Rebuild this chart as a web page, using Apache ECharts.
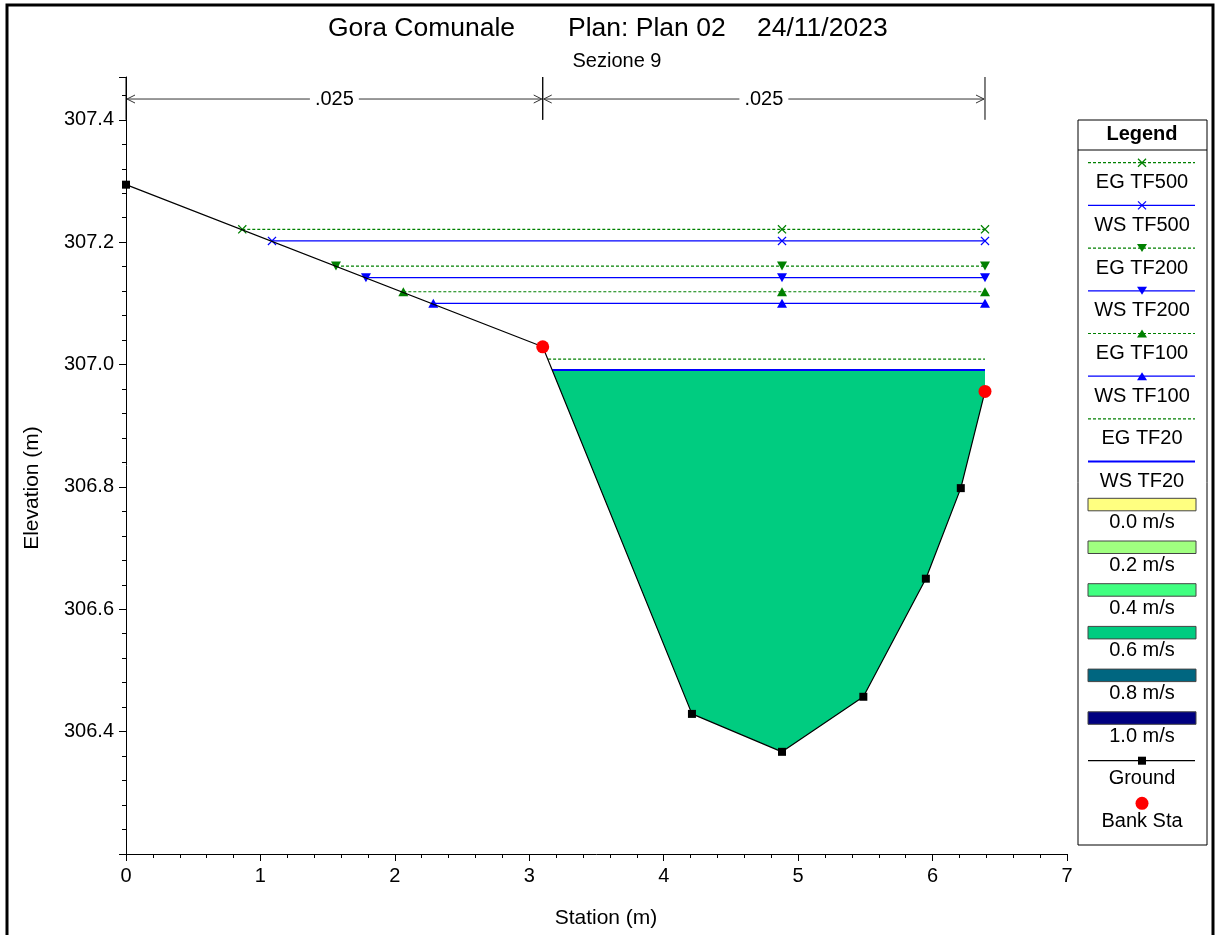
<!DOCTYPE html>
<html><head><meta charset="utf-8">
<script src="https://cdn.jsdelivr.net/npm/echarts@6/dist/echarts.min.js"></script>
<style>html,body{margin:0;padding:0;background:#fff}#c{width:1215px;height:935px}</style>
</head><body><div id="c"></div>
<script>
// ---- data ----
const groundStation = [0, 3.10, 4.21, 4.88, 5.485, 5.95, 6.21, 6.39];
const groundElev    = [307.294, 307.029, 306.429, 306.367, 306.457, 306.650, 306.798, 306.956];
const bankStation   = [3.10, 6.39];
const bankElev      = [307.029, 306.956];
const profileNames  = ['EG TF500','WS TF500','EG TF200','WS TF200','EG TF100','WS TF100','EG TF20','WS TF20'];
const profileElev   = [307.221, 307.202, 307.161, 307.142, 307.119, 307.100, 307.009, 306.991];
const profileStart  = [0.865, 1.086, 1.562, 1.785, 2.063, 2.286, 3.14, 3.17];
const profileMidSta = [4.88, 4.88, 4.88, 4.88, 4.88, 4.88, 4.88, 4.88];
const profileEndSta = [6.39, 6.39, 6.39, 6.39, 6.39, 6.39, 6.39, 6.39];
const manningBreaks = [0, 3.10, 6.39];
const manningN      = ['.025', '.025'];
const velocityLabels = ['0.0 m/s','0.2 m/s','0.4 m/s','0.6 m/s','0.8 m/s','1.0 m/s'];
const xTickValues = [0,1,2,3,4,5,6,7];
const yTickValues = [306.4,306.6,306.8,307.0,307.2,307.4];
const titleParts = ['Gora Comunale', 'Plan: Plan 02', '24/11/2023'];
const subTitle = 'Sezione 9';

// ---- styles ----
const velocityColors = ['#ffff80','#a0ff80','#40ff80','#00cc80','#006680','#000080'];
const flowColor = '#00cc80';
const EGC = '#008000', WSC = '#0000ff';
const profileColor = [EGC,WSC,EGC,WSC,EGC,WSC,EGC,WSC];
const profileDashed = [true,false,true,false,true,false,true,false];
const profileMark = ['cross','cross','down','down','up','up','none','none'];
const FONT = 'Liberation Sans, Arial, sans-serif';
const crossPath = 'path://M0,1L1,0L5,4L9,0L10,1L6,5L10,9L9,10L5,6L1,10L0,9L4,5Z';
function symOf(m){ return m==='cross'?crossPath : m==='none'?'none':'triangle'; }

const chart = echarts.init(document.getElementById('c'), null, {renderer:'canvas'});

// flow area polygon (WS TF20 clipped to ground)
const ws20 = profileElev[7];
const flowPoly = [[profileStart[7], ws20]];
groundStation.forEach((s,i)=>{ if (s > profileStart[7]) flowPoly.push([s, groundElev[i]]); });
flowPoly.push([profileEndSta[7], ws20]);

const series = [];
series.push({
  type:'custom', name:'flow', z:1, silent:true,
  data:[[0,0]],
  renderItem:(p, api)=>{
    return {type:'polygon', shape:{points: flowPoly.map(pt=>api.coord(pt))},
      style:{fill: flowColor, stroke: 'none'}};
  }
});
profileNames.forEach((n,i)=>{
  const m = profileMark[i];
  series.push({
    type:'line', name:n, z:2,
    data:[[profileStart[i], profileElev[i]],[profileMidSta[i], profileElev[i]],[profileEndSta[i], profileElev[i]]],
    symbol: symOf(m), symbolSize: m==='cross'?[9,9]:[10,9], symbolRotate: m==='down'?180:0,
    showSymbol: m!=='none',
    lineStyle:{color: profileColor[i], width: i===7?2:1.2, type: profileDashed[i]?[3,2]:'solid'},
    itemStyle:{color: profileColor[i]},
    animation:false
  });
});
series.push({
  type:'line', name:'Ground', z:3,
  data: groundStation.map((s,i)=>[s, groundElev[i]]),
  symbol:'rect', symbolSize:8, lineStyle:{color:'#000', width:1.2}, itemStyle:{color:'#000'}
});
series.push({
  type:'scatter', name:'Bank Sta', z:4,
  data: bankStation.map((s,i)=>[s, bankElev[i]]),
  symbol:'circle', symbolSize:13, itemStyle:{color:'#ff0000', opacity:1, borderWidth:0}
});
// Manning's n annotation
series.push({
  type:'custom', name:'manning', z:5, silent:true, clip:false,
  data: manningN.map((n,i)=>[manningBreaks[i], manningBreaks[i+1]]),
  renderItem:(p, api)=>{
    const x0 = api.coord([api.value(0), 307.434])[0];
    const x1 = api.coord([api.value(1), 307.434])[0];
    const y = api.coord([0, 307.434])[1];
    const yT = api.coord([0, 307.47])[1];
    const yB = api.coord([0, 307.40])[1];
    const c = '#333';
    const st = {stroke:c, lineWidth:1, fill:'none'};
    return {type:'group', children:[
      {type:'line', shape:{x1:x0, y1:yT, x2:x0, y2:yB}, style:{stroke:'#000', lineWidth:1}},
      {type:'line', shape:{x1:x1, y1:yT, x2:x1, y2:yB}, style:{stroke:'#000', lineWidth:1}},
      {type:'line', shape:{x1:x0+1, y1:y, x2:x1-1, y2:y}, style:{stroke:c, lineWidth:1}},
      {type:'polyline', shape:{points:[[x0+9,y-4],[x0+1,y],[x0+9,y+4]]}, style:st},
      {type:'polyline', shape:{points:[[x1-9,y-4],[x1-1,y],[x1-9,y+4]]}, style:st},
      {type:'text', style:{text: manningN[p.dataIndex], x:(x0+x1)/2, y:y, align:'center', verticalAlign:'middle',
        font:'20px '+FONT, fill:'#000', backgroundColor:'#fff', padding:[0,5]}}
    ]};
  }
});

// ---- legend and frame graphics ----
const g = [];
g.push({type:'rect', shape:{x:7, y:5, width:1206, height:945}, style:{fill:'none', stroke:'#000', lineWidth:3}, z:100});
// titles
const titleX = [328, 568, 757];
titleParts.forEach((t,i)=>g.push({type:'text', left:titleX[i], top:15, style:{text:t, font:'26.5px '+FONT, fill:'#000'}}));
g.push({type:'text', x:617, y:61, style:{text:subTitle, font:'20px '+FONT, fill:'#000', align:'center', verticalAlign:'middle'}});
// axis names
g.push({type:'text', x:606, y:918, style:{text:'Station (m)', font:'21px '+FONT, fill:'#000', align:'center', verticalAlign:'middle'}});
g.push({type:'text', x:32, y:488, rotation:Math.PI/2, style:{text:'Elevation (m)', font:'21px '+FONT, fill:'#000', align:'center', verticalAlign:'middle'}});
// legend box
const LX = 1078, LW = 129, LT = 120, LB = 845, CX = 1142, IX0 = 1088, IX1 = 1195;
g.push({type:'rect', shape:{x:LX, y:LT, width:LW, height:LB-LT}, style:{fill:'#fff', stroke:'#000', lineWidth:1}});
g.push({type:'line', shape:{x1:LX, y1:150, x2:LX+LW, y2:150}, style:{stroke:'#000', lineWidth:1}});
g.push({type:'text', x:CX, y:134, style:{text:'Legend', font:'bold 20px '+FONT, fill:'#000', align:'center', verticalAlign:'middle'}});
function legendMarker(kind, color, x, y){
  if (kind==='cross') return [
    {type:'line', shape:{x1:x-4,y1:y-4,x2:x+4,y2:y+4}, style:{stroke:color,lineWidth:1.3}},
    {type:'line', shape:{x1:x-4,y1:y+4,x2:x+4,y2:y-4}, style:{stroke:color,lineWidth:1.3}}];
  if (kind==='down') return [{type:'polygon', shape:{points:[[x-5,y-4],[x+5,y-4],[x,y+4]]}, style:{fill:color}}];
  if (kind==='up') return [{type:'polygon', shape:{points:[[x-5,y+4],[x+5,y+4],[x,y-4]]}, style:{fill:color}}];
  return [];
}
profileNames.forEach((n,i)=>{
  const ly = 162.7 + i*42.7;
  g.push({type:'line', shape:{x1:IX0,y1:ly,x2:IX1,y2:ly}, style:{stroke:profileColor[i], lineWidth: i===7?2:1.2, lineDash: profileDashed[i]?[3,2]:null}});
  legendMarker(profileMark[i], profileColor[i], CX, ly).forEach(e=>g.push(e));
  g.push({type:'text', x:CX, y:ly+20, style:{text:n, font:'20px '+FONT, fill:'#000', align:'center', verticalAlign:'middle'}});
});
velocityLabels.forEach((v,i)=>{
  const ry = 498.3 + i*42.7;
  g.push({type:'rect', shape:{x:IX0, y:ry, width:IX1-IX0+1, height:12.5}, style:{fill:velocityColors[i], stroke:'#444', lineWidth:1}});
  g.push({type:'text', x:CX, y:ry+24.5, style:{text:v, font:'20px '+FONT, fill:'#000', align:'center', verticalAlign:'middle'}});
});
g.push({type:'line', shape:{x1:IX0,y1:760.7,x2:IX1,y2:760.7}, style:{stroke:'#000', lineWidth:1.2}});
g.push({type:'rect', shape:{x:CX-4, y:756.7, width:8, height:8}, style:{fill:'#000'}});
g.push({type:'text', x:CX, y:778.3, style:{text:'Ground', font:'20px '+FONT, fill:'#000', align:'center', verticalAlign:'middle'}});
g.push({type:'circle', shape:{cx:CX, cy:803.3, r:6.5}, style:{fill:'#ff0000'}});
g.push({type:'text', x:CX, y:821, style:{text:'Bank Sta', font:'20px '+FONT, fill:'#000', align:'center', verticalAlign:'middle'}});

chart.setOption({
  animation:false,
  backgroundColor:'#fff',
  textStyle:{fontFamily:FONT},
  grid:{left:126, right:148, top:77, bottom:81, containLabel:false},
  xAxis:{
    type:'value', min:xTickValues[0], max:xTickValues[xTickValues.length-1], interval:1,
    axisLine:{show:true, onZero:false, lineStyle:{color:'#000', width:1}},
    axisTick:{show:true, inside:false, length:7, lineStyle:{color:'#000'}},
    minorTick:{show:true, splitNumber:5, length:4, lineStyle:{color:'#000'}},
    axisLabel:{color:'#000', fontSize:20, fontFamily:FONT, margin:12},
    splitLine:{show:false}
  },
  yAxis:{
    type:'value', min:306.2, max:307.47, interval:0.2,
    axisLine:{show:true, onZero:false, lineStyle:{color:'#000', width:1}},
    axisTick:{show:true, inside:false, length:7, lineStyle:{color:'#000'}},
    minorTick:{show:true, splitNumber:5, length:4, lineStyle:{color:'#000'}},
    axisLabel:{color:'#000', fontSize:20, fontFamily:FONT, margin:12, showMinLabel:false, showMaxLabel:false,
      formatter:(v)=> yTickValues.some(t=>Math.abs(t-v)<1e-6) ? v.toFixed(1) : ''},
    splitLine:{show:false}
  },
  series: series,
  graphic: g
});
</script></body></html>
